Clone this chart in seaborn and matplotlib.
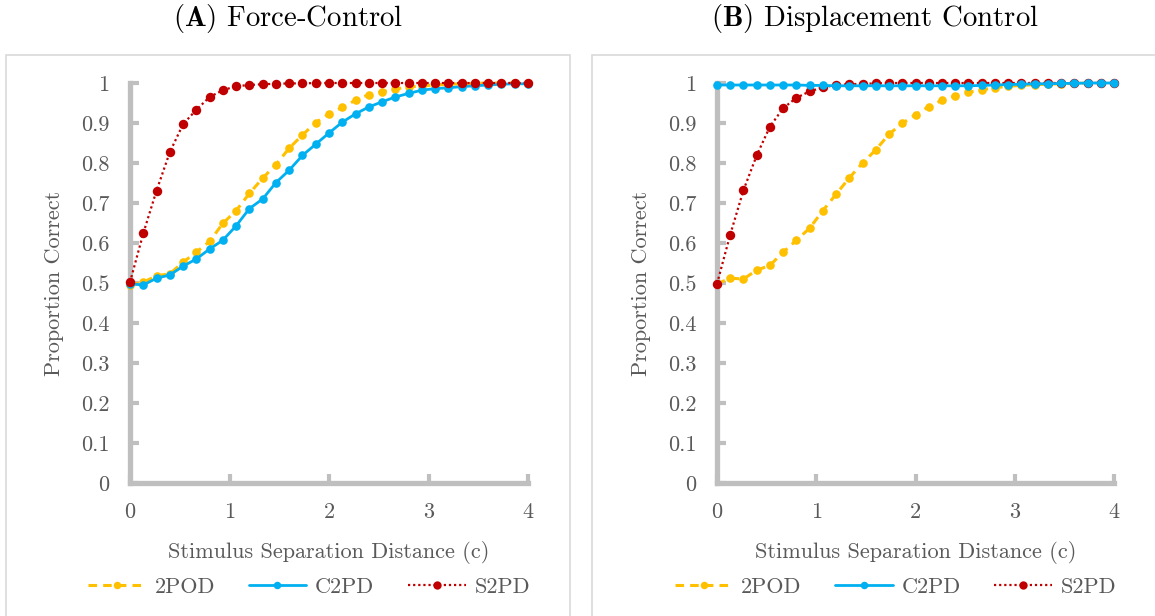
import numpy as np
import pandas as pd
import matplotlib
matplotlib.use("Agg")
import matplotlib.pyplot as plt
from matplotlib.patches import Rectangle
from matplotlib.lines import Line2D
import seaborn as sns

# ---------------- data ----------------
distance = np.round(np.linspace(0, 4, 31), 4)

force_2pod = [0.495, 0.502, 0.518, 0.523, 0.552, 0.577, 0.604, 0.649, 0.681, 0.724,
              0.762, 0.796, 0.837, 0.870, 0.901, 0.923, 0.939, 0.957, 0.971, 0.978,
              0.985, 0.990, 0.993, 0.995, 0.997, 0.998, 0.999, 1.000, 1.000, 1.000, 1.000]
force_c2pd = [0.498, 0.495, 0.512, 0.520, 0.542, 0.560, 0.585, 0.607, 0.643, 0.686,
              0.710, 0.751, 0.782, 0.819, 0.847, 0.875, 0.902, 0.923, 0.940, 0.953,
              0.965, 0.974, 0.982, 0.986, 0.988, 0.991, 0.993, 0.995, 0.997, 0.998, 0.998]
force_s2pd = [0.502, 0.624, 0.731, 0.827, 0.897, 0.933, 0.965, 0.982, 0.992, 0.995,
              0.997, 0.998, 0.999, 0.999, 1.000, 1.000, 1.000, 1.000, 1.000, 1.000,
              1.000, 1.000, 1.000, 1.000, 1.000, 1.000, 1.000, 1.000, 1.000, 1.000, 1.000]

disp_2pod = [0.498, 0.512, 0.510, 0.532, 0.544, 0.577, 0.607, 0.637, 0.681, 0.722,
             0.763, 0.800, 0.833, 0.872, 0.899, 0.921, 0.941, 0.957, 0.968, 0.977,
             0.983, 0.988, 0.992, 0.994, 0.996, 0.997, 0.998, 0.999, 1.000, 1.000, 1.000]
disp_c2pd = [0.995, 0.995, 0.995, 0.995, 0.995, 0.995, 0.995, 0.994, 0.994, 0.993,
             0.993, 0.993, 0.993, 0.993, 0.993, 0.993, 0.993, 0.993, 0.993, 0.993,
             0.994, 0.995, 0.996, 0.997, 0.998, 0.998, 0.999, 0.999, 1.000, 1.000, 1.000]
disp_s2pd = [0.498, 0.621, 0.732, 0.819, 0.891, 0.937, 0.963, 0.979, 0.989, 0.995,
             0.997, 0.998, 0.999, 1.000, 1.000, 1.000, 1.000, 1.000, 1.000, 1.000,
             1.000, 1.000, 1.000, 1.000, 1.000, 1.000, 1.000, 1.000, 1.000, 1.000, 1.000]

series_names = ["2POD", "C2PD", "S2PD"]
panel_titles = [r"$\mathbf{(A)}$ Force-Control", r"$\mathbf{(B)}$ Displacement Control"]
x_ticks = [0, 1, 2, 3, 4]
y_ticks = [0, 0.1, 0.2, 0.3, 0.4, 0.5, 0.6, 0.7, 0.8, 0.9, 1]
y_tick_labels = ["0", "0.1", "0.2", "0.3", "0.4", "0.5", "0.6", "0.7", "0.8", "0.9", "1"]

panels = [
    {"2POD": force_2pod, "C2PD": force_c2pd, "S2PD": force_s2pd},
    {"2POD": disp_2pod, "C2PD": disp_c2pd, "S2PD": disp_s2pd},
]

# ---------------- style ----------------
sns.set_style("white")
plt.rcParams["font.family"] = ["cmr10", "DejaVu Serif"]
plt.rcParams["mathtext.fontset"] = "cm"
plt.rcParams["axes.formatter.use_mathtext"] = True

TEXT = "#595959"
SPINE = "#BFBFBF"
FS = 16
styles = {
    "2POD": dict(color="#FFC000", linestyle=(0, (2.8, 2.0)), linewidth=2.2, markersize=6.2),
    "C2PD": dict(color="#00B0F0", linestyle="-", linewidth=2.0, markersize=6.2),
    "S2PD": dict(color="#C00000", linestyle=(0, (1, 1.3)), linewidth=1.6, markersize=6.8),
}

W, H = 1155, 616
fig = plt.figure(figsize=(W / 100, H / 100), dpi=100)

# panel frames (pixel -> figure fraction)
for (x0, x1) in [(6, 570), (592, 1160)]:
    fig.patches.append(Rectangle((x0 / W, -0.05), (x1 - x0) / W, (H - 55) / H + 0.05,
                                 transform=fig.transFigure, facecolor="none",
                                 edgecolor="#D9D9D9", linewidth=1.2, zorder=0))

axes_px = [(130, 528), (717, 1114)]
y0_px, y1_px = 483, 83
title_x = [288, 875]

for i, (xl, xr) in enumerate(axes_px):
    ax = fig.add_axes([xl / W, 1 - y0_px / H, (xr - xl) / W, (y0_px - y1_px) / H])
    data = panels[i]
    order = ["2POD", "C2PD", "S2PD"] if i == 0 else ["2POD", "S2PD", "C2PD"]
    for name in order:
        st = styles[name]
        sns.lineplot(x=distance, y=data[name], ax=ax, color=st["color"],
                     linestyle=st["linestyle"], linewidth=st["linewidth"],
                     marker="o", markersize=st["markersize"], markeredgewidth=0,
                     clip_on=False, label=name, legend=False, zorder=3)
    ax.set_xlim(0, 4)
    ax.set_ylim(0, 1)
    ax.set_xticks(x_ticks)
    ax.set_xticklabels([str(t) for t in x_ticks])
    ax.set_yticks(y_ticks)
    ax.set_yticklabels(y_tick_labels)
    for s in ["top", "right"]:
        ax.spines[s].set_visible(False)
    for s in ["left", "bottom"]:
        ax.spines[s].set_color(SPINE)
        ax.spines[s].set_linewidth(3.8)
        ax.spines[s].set_zorder(1)
        ax.spines[s].set_capstyle("projecting")
    ax.tick_params(axis="both", direction="in", length=6.5, width=3.0, color=SPINE,
                   labelsize=FS, labelcolor=TEXT, left=True, bottom=True)
    ax.tick_params(axis="y", pad=15)
    ax.tick_params(axis="x", pad=14)
    ax.set_xlabel("Stimulus Separation Distance (c)", fontsize=FS, color=TEXT, labelpad=14)
    ax.set_ylabel("Proportion Correct", fontsize=FS, color=TEXT, labelpad=12)
    ax.patch.set_alpha(0)

    handles = [Line2D([], [], color=styles[n]["color"], linestyle=styles[n]["linestyle"],
                      linewidth=styles[n]["linewidth"], marker="o",
                      markersize=styles[n]["markersize"] - 0.8, markeredgewidth=0)
               for n in series_names]
    leg = ax.legend(handles, series_names, loc="center", bbox_to_anchor=(0.45, -0.26),
                    ncol=3, frameon=False, fontsize=FS, handlelength=2.6,
                    columnspacing=1.5, handletextpad=0.4, numpoints=1)
    for t in leg.get_texts():
        t.set_color(TEXT)

    fig.text(title_x[i] / W, 1 - 18 / H, panel_titles[i], ha="center", va="center",
             fontsize=20.7, color="black")

fig.savefig("out.png", dpi=100)
